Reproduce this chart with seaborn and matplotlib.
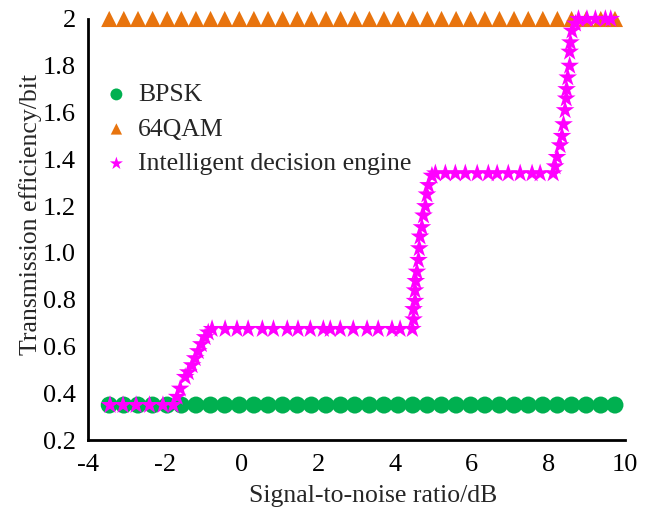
import matplotlib
matplotlib.use("Agg")
import matplotlib.pyplot as plt
import seaborn as sns
import pandas as pd

# ---- data ----
snr_grid = [-3.45, -3.07, -2.70, -2.32, -1.94, -1.57, -1.19, -0.81, -0.44, -0.06,
            0.32, 0.69, 1.07, 1.45, 1.82, 2.20, 2.58, 2.95, 3.33, 3.71,
            4.08, 4.46, 4.84, 5.21, 5.59, 5.97, 6.34, 6.72, 7.10, 7.47,
            7.85, 8.23, 8.60, 8.98, 9.36, 9.73]
bpsk_eff = [0.35] * len(snr_grid)
qam64_eff = [2.0] * len(snr_grid)

ide_snr = [-3.43, -3.09, -2.75, -2.40, -2.05, -1.78,
           -1.68, -1.60, -1.47, -1.39, -1.29, -1.21, -1.13, -1.05, -0.95, -0.87,
           -0.77, -0.43, -0.12, 0.17, 0.54, 0.83, 1.19, 1.47, 1.79, 2.13, 2.31,
           2.57, 2.91, 3.27, 3.56, 3.92, 4.13, 4.45,
           4.48, 4.48, 4.52, 4.52, 4.54, 4.57, 4.61, 4.63, 4.65, 4.70, 4.74,
           4.79, 4.83, 4.87, 4.96,
           5.05, 5.31, 5.57, 5.83, 6.14, 6.43, 6.66, 6.95, 7.26, 7.57, 7.78, 8.12,
           8.17, 8.22, 8.30, 8.35, 8.39, 8.43, 8.46, 8.47, 8.50, 8.55, 8.55,
           8.57, 8.61, 8.70,
           8.78, 9.00, 9.22, 9.48, 9.62]
ide_eff = [0.35] * 6 + \
          [0.385, 0.42, 0.47, 0.49, 0.52, 0.55, 0.58, 0.61, 0.64, 0.66] + \
          [0.675] * 18 + \
          [0.716, 0.76, 0.795, 0.84, 0.88, 0.92, 0.97, 1.02, 1.07, 1.11, 1.16,
           1.20, 1.25, 1.29, 1.33] + \
          [1.34] * 12 + \
          [1.37, 1.41, 1.46, 1.50, 1.55, 1.61, 1.66, 1.70, 1.75, 1.80, 1.86,
           1.90, 1.95, 1.98] + \
          [2.0] * 5

series_names = ["BPSK", "64QAM", "Intelligent decision engine"]
colors = ["#00B050", "#E8740E", "#FF00FF"]
yticks = [0.2, 0.4, 0.6, 0.8, 1.0, 1.2, 1.4, 1.6, 1.8, 2.0]
ytick_labels = ["0.2", "0.4", "0.6", "0.8", "1.0", "1.2", "1.4", "1.6", "1.8", "2"]
xticks = [-4, -2, 0, 2, 4, 6, 8, 10]

df_bpsk = pd.DataFrame({"snr": snr_grid, "eff": bpsk_eff})
df_qam = pd.DataFrame({"snr": snr_grid, "eff": qam64_eff})
df_ide = pd.DataFrame({"snr": ide_snr, "eff": ide_eff})

sns.set_style("white")
SERIF = ["Liberation Serif", "DejaVu Serif"]
plt.rcParams["font.family"] = SERIF

fig = plt.figure(figsize=(6.48, 5.13), dpi=100)
ax = fig.add_axes([0.136, 0.142, 0.829, 0.821])

sns.scatterplot(data=df_bpsk, x="snr", y="eff", ax=ax, marker="o", s=150,
                color=colors[0], edgecolor="none", label=series_names[0], zorder=2)
sns.scatterplot(data=df_qam, x="snr", y="eff", ax=ax, marker="^", s=135,
                color=colors[1], edgecolor="none", label=series_names[1], zorder=2,
                clip_on=False)
sns.scatterplot(data=df_ide, x="snr", y="eff", ax=ax, marker="*", s=200,
                color=colors[2], edgecolor="none", label=series_names[2], zorder=3,
                clip_on=False)

ax.set_xlim(-4, 10)
ax.set_ylim(0.2, 2.0)
ax.set_xticks(xticks)
ax.set_xticklabels([str(t) for t in xticks], fontfamily=SERIF, fontsize=19)
ax.set_yticks(yticks)
ax.set_yticklabels(ytick_labels, fontfamily=SERIF, fontsize=19)

for side in ["top", "right"]:
    ax.spines[side].set_visible(False)
for side in ["left", "bottom"]:
    ax.spines[side].set_linewidth(2.0)
    ax.spines[side].set_color("black")

ax.tick_params(axis="both", direction="in", length=7, width=2.0, colors="black")
ax.tick_params(axis="x", pad=10)
ax.tick_params(axis="y", pad=9)
ax.set_xlabel("Signal-to-noise ratio/dB", fontsize=18.5, fontfamily=SERIF)
ax.set_ylabel("Transmission efficiency/bit", fontsize=18.5, fontfamily=SERIF)
ax.xaxis.set_label_coords(0.531, -0.106)
ax.yaxis.set_label_coords(-0.085, 0.535)

leg = ax.legend(loc="upper left", bbox_to_anchor=(0.0, 0.872), frameon=False,
                prop={"family": SERIF, "size": 18.5}, handletextpad=0.15,
                labelspacing=0.45, borderaxespad=0.0, handlelength=1.4,
                markerscale=0.7)

fig.savefig("out.png", dpi=100)
